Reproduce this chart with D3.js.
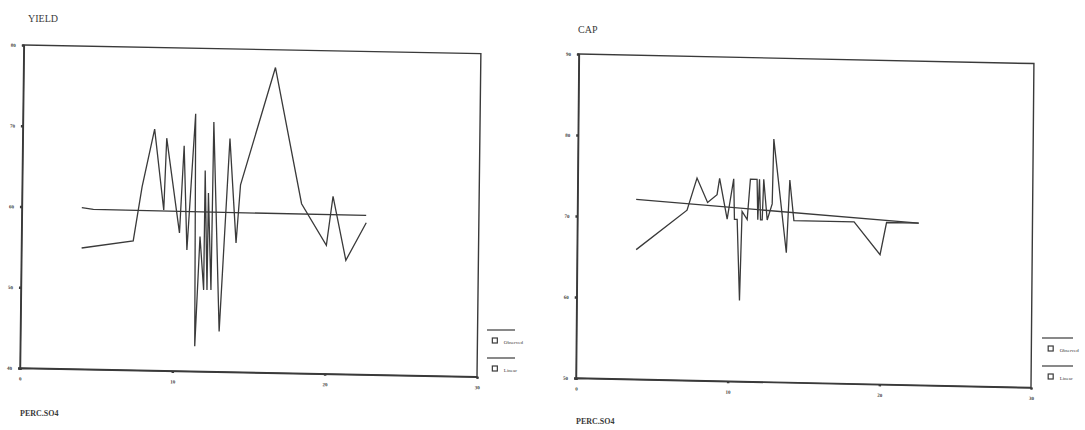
<!DOCTYPE html>
<html><head><meta charset="utf-8">
<script src="https://cdn.jsdelivr.net/npm/d3@7"></script>
<style>
body{margin:0;background:#fff;}
svg{display:block;}
text{font-family:"Liberation Serif","DejaVu Serif",serif;fill:#3a3a3a;}
</style></head>
<body><svg id="c" width="1085" height="430"></svg>
<script>
// ---- data ----
const xTicks = [0, 10, 20, 30];
const yieldTicks = [40, 50, 60, 70, 80];
const capTicks = [50, 60, 70, 80, 90];

const yieldObsX = [3.95, 7.33, 7.87, 8.65, 9.31, 9.45, 10.36, 10.6, 10.86, 11.33, 11.45, 11.71, 11.99, 12.0, 12.21, 12.23, 12.47, 12.53, 13.04, 13.6, 14.08, 14.33, 16.53, 18.35, 20.01, 20.41, 21.3, 22.61];
const yieldObsY = [55.0, 56.0, 62.7, 69.9, 59.9, 68.8, 57.1, 67.9, 55.0, 71.9, 43.1, 56.7, 50.1, 64.9, 50.1, 62.1, 50.1, 70.9, 45.0, 68.9, 56.0, 63.2, 77.8, 61.0, 55.9, 62.0, 54.1, 58.8];
const yieldLinX = [3.93, 4.69, 22.6];
const yieldLinY = [60.0, 59.8, 59.7];

const capObsX = [3.89, 7.22, 7.86, 8.57, 9.19, 9.35, 9.87, 10.28, 10.35, 10.53, 10.73, 10.85, 11.19, 11.38, 11.82, 11.89, 11.98, 12.07, 12.18, 12.26, 12.51, 12.83, 12.9, 13.79, 13.98, 14.27, 18.24, 19.97, 20.38, 22.5];
const capObsY = [66, 71, 75, 72, 73, 75, 70, 75, 70, 70, 60, 71, 70, 75, 75, 70, 75, 70, 70, 75, 70, 72, 80, 66, 75, 70, 70, 66, 70, 70];
const capLinX = [3.86, 22.5];
const capLinY = [72.2, 70.0];

const legendLabels = ["Observed", "Linear"];

// ---- drawing ----
const svg = d3.select("#c");
const ink = "#3a3a3a";

function chart(cfg) {
  const g = svg.append("g")
    .attr("transform", `translate(${cfg.x0},${cfg.y0}) matrix(1,${cfg.b},${cfg.a},1,0,0)`);
  const x = d3.scaleLinear().domain([0, 30]).range([0, cfg.w]);
  const y = d3.scaleLinear().domain(cfg.yDomain).range([0, -cfg.h]);

  // frame
  g.append("rect").attr("x", 0).attr("y", -cfg.h).attr("width", cfg.w).attr("height", cfg.h)
    .attr("fill", "none").attr("stroke", ink).attr("stroke-width", 1.4);

  const ax = g.append("g").call(d3.axisBottom(x).tickValues(xTicks).tickSize(2).tickPadding(7).tickFormat(d3.format("d")));
  const ay = g.append("g").call(d3.axisLeft(y).tickValues(cfg.yTicks).tickSize(2).tickPadding(6).tickFormat(d3.format("d")));
  [ax, ay].forEach(a => {
    a.select(".domain").attr("stroke", ink).attr("stroke-width", 1.4);
    a.selectAll(".tick line").attr("stroke", ink).attr("stroke-width", 2.5);
    a.selectAll(".tick text").attr("font-size", 5).attr("font-weight", "bold")
      .attr("font-family", "Liberation Serif, serif").attr("fill", "#444");
  });

  const line = d3.line().x(d => x(d[0])).y(d => y(d[1]));
  const obs = cfg.obsX.map((v, i) => [v, cfg.obsY[i]]);
  const lin = cfg.linX.map((v, i) => [v, cfg.linY[i]]);
  g.append("path").attr("d", line(lin)).attr("fill", "none").attr("stroke", ink).attr("stroke-width", 1.3);
  g.append("path").attr("d", line(obs)).attr("fill", "none").attr("stroke", ink).attr("stroke-width", 1.3)
    .attr("stroke-linejoin", "miter");

  // title and x label (screen coordinates)
  svg.append("text").attr("x", cfg.tx).attr("y", cfg.ty).attr("font-size", 10).text(cfg.title);
  svg.append("text").attr("x", cfg.lx).attr("y", cfg.ly).attr("font-size", 8).attr("font-weight", "bold").text("PERC.SO4");

  // legend
  const lg = svg.append("g").attr("transform", `translate(${cfg.legX},${cfg.legY})`);
  legendLabels.forEach((t, i) => {
    const yy = i * 28;
    lg.append("line").attr("x1", 0).attr("x2", cfg.legW).attr("y1", yy).attr("y2", yy)
      .attr("stroke", ink).attr("stroke-width", 1.2);
    lg.append("rect").attr("x", cfg.legW * 0.28 - 2.5).attr("y", yy + 8).attr("width", 5).attr("height", 5)
      .attr("fill", "none").attr("stroke", ink).attr("stroke-width", 1.2);
    lg.append("text").attr("x", cfg.legW * 0.28 + 9).attr("y", yy + 14).attr("font-size", 5).text(t);
  });
}

chart({x0: 20, y0: 368, w: 457, h: 323, a: -0.012, b: 0.019,
  yDomain: [40, 80], yTicks: yieldTicks,
  obsX: yieldObsX, obsY: yieldObsY, linX: yieldLinX, linY: yieldLinY,
  title: "YIELD", tx: 28, ty: 22, lx: 20, ly: 416,
  legX: 487, legY: 330, legW: 28});

chart({x0: 576, y0: 378, w: 455, h: 324, a: -0.009, b: 0.021,
  yDomain: [50, 90], yTicks: capTicks,
  obsX: capObsX, obsY: capObsY, linX: capLinX, linY: capLinY,
  title: "CAP", tx: 578, ty: 33, lx: 576, ly: 424,
  legX: 1042, legY: 338, legW: 31});
</script></body></html>
